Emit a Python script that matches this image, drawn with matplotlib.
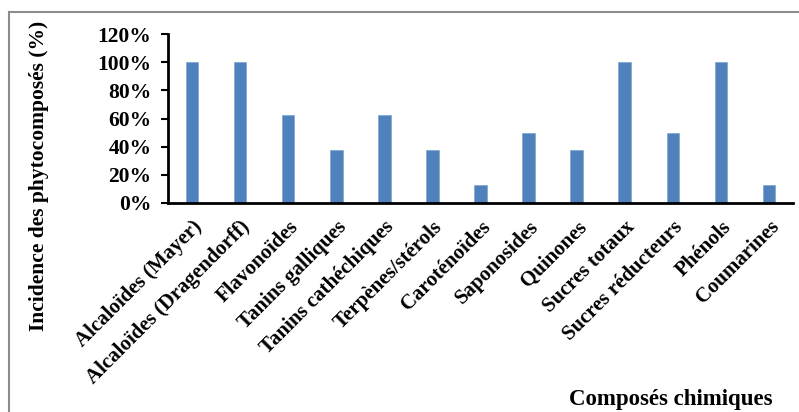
import numpy as np
import matplotlib.pyplot as plt
from matplotlib.patches import Rectangle
from matplotlib.ticker import PercentFormatter

compounds = [
    "Alcaloïdes (Mayer)", "Alcaloïdes (Dragendorff)", "Flavonoïdes",
    "Tanins galliques", "Tanins cathéchiques", "Terpènes/stérols",
    "Caroténoïdes", "Saponosides", "Quinones", "Sucres totaux",
    "Sucres réducteurs", "Phénols", "Coumarines",
]
incidence = [100, 100, 62.5, 37.5, 62.5, 37.5, 12.5, 50, 37.5, 100, 50, 100, 12.5]
yticks = [0, 20, 40, 60, 80, 100, 120]

plt.rcParams["font.family"] = ["Liberation Serif", "DejaVu Serif"]
plt.rcParams["font.weight"] = "bold"

fig = plt.figure(figsize=(7.99, 4.12), dpi=100)
ax = fig.add_axes([168 / 799, 1 - 203 / 412, (793 - 168) / 799, (203 - 34) / 412])

x = np.arange(len(compounds))
ax.bar(x, incidence, width=0.26, color="#4F81BD", edgecolor="#7FA3D0", linewidth=0.5)

ax.set_xlim(-0.5, len(compounds) - 0.5)
ax.set_ylim(0, 120)
ax.set_yticks(yticks)
ax.yaxis.set_major_formatter(PercentFormatter(decimals=0))
ax.set_xticks(x)
ax.set_xticklabels(compounds, rotation=45, ha="right", rotation_mode="anchor",
                   fontsize=15, fontweight="bold")
ax.tick_params(axis="x", length=0, pad=10)
ax.tick_params(axis="y", length=5, width=1.5, labelsize=15.5, pad=7)
for lbl in ax.get_yticklabels():
    lbl.set_fontweight("bold")

for side in ("top", "right"):
    ax.spines[side].set_visible(False)
for side in ("left", "bottom"):
    ax.spines[side].set_linewidth(2)
    ax.spines[side].set_color("black")

fig.text(39 / 799, 1 - 176 / 412, "Incidence des phytocomposés (%)", rotation=90,
         ha="center", va="center", fontsize=15.5, fontweight="bold")
fig.text(671 / 799, 1 - 400 / 412, "Composés chimiques", ha="center", va="center",
         fontsize=16.5, fontweight="bold")

# chart frame, open on the right and bottom
fig.add_artist(Rectangle((9 / 799, -0.1), 1.2, 1 - 12 / 412 + 0.1,
                         transform=fig.transFigure, fill=False,
                         edgecolor="#8c8c8c", linewidth=1.5))

fig.savefig("out.png", dpi=100)
